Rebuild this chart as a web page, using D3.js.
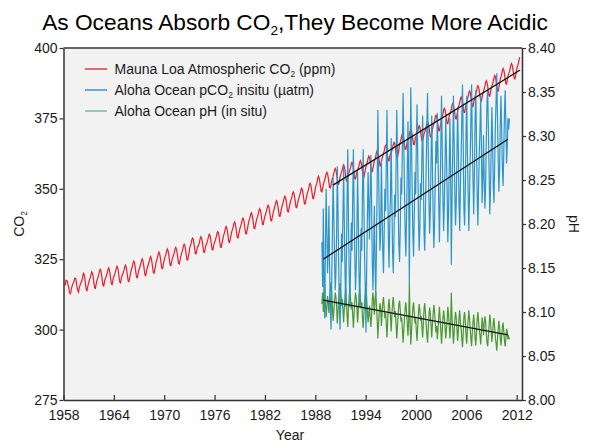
<!DOCTYPE html>
<html>
<head>
<meta charset="utf-8">
<script src="https://cdn.jsdelivr.net/npm/d3@7"></script>
<style>
  html, body { margin: 0; padding: 0; background: #ffffff; }
  svg { display: block; font-family: "Liberation Sans", Arial, sans-serif; }
</style>
</head>
<body>
<svg id="chart" width="590" height="445"></svg>
<script>
// Mauna Loa monthly mean CO2 (ppm), March 1958 through May 2012
const maunaLoaStart = { year: 1958, month: 2 };
const maunaLoaCO2 = [
  315.7, 317.5, 317.5, 317.1, 315.9, 314.9, 313.2, 312.7, 313.3, 314.7,
  315.6, 316.4, 316.7, 317.7, 318.3, 318.2, 316.5, 314.8, 313.8, 313.3, 314.8, 315.6,
  316.4, 317.0, 317.6, 319.0, 320.0, 319.6, 318.2, 315.9, 314.2, 313.8, 315.0, 316.2,
  317.1, 317.9, 318.7, 319.9, 320.5, 319.9, 318.5, 316.5, 314.8, 314.6, 315.9, 317.1,
  318.0, 318.8, 319.6, 320.8, 321.4, 320.8, 319.4, 317.4, 315.7, 315.5, 316.8, 318.0,
  318.5, 319.3, 320.1, 321.3, 321.9, 321.3, 319.9, 317.9, 316.2, 316.0, 317.3, 318.5,
  319.1, 319.9, 320.7, 321.9, 322.5, 321.9, 320.5, 318.5, 316.8, 316.6, 317.9, 319.1,
  319.5, 320.3, 321.1, 322.3, 322.9, 322.3, 320.9, 318.9, 317.2, 317.0, 318.3, 319.5,
  320.9, 321.7, 322.5, 323.7, 324.3, 323.7, 322.3, 320.3, 318.6, 318.4, 319.7, 320.9,
  321.7, 322.5, 323.3, 324.5, 325.1, 324.5, 323.1, 321.1, 319.4, 319.2, 320.5, 321.7,
  322.5, 323.3, 324.1, 325.3, 325.9, 325.3, 323.9, 321.9, 320.2, 320.0, 321.3, 322.5,
  324.1, 324.9, 325.7, 326.9, 327.5, 326.9, 325.5, 323.5, 321.8, 321.6, 322.9, 324.1,
  325.2, 326.0, 326.8, 328.0, 328.6, 328.0, 326.6, 324.6, 322.9, 322.7, 324.0, 325.2,
  325.8, 326.6, 327.4, 328.6, 329.2, 328.6, 327.2, 325.2, 323.5, 323.3, 324.6, 325.8,
  326.8, 327.6, 328.5, 329.7, 330.3, 329.8, 328.4, 326.5, 324.8, 324.7, 326.0, 327.2,
  329.0, 329.8, 330.7, 331.9, 332.5, 332.0, 330.6, 328.7, 327.0, 326.9, 328.2, 329.4,
  329.5, 330.3, 331.2, 332.4, 333.0, 332.5, 331.1, 329.2, 327.5, 327.4, 328.7, 329.9,
  330.4, 331.2, 332.1, 333.3, 333.9, 333.4, 332.0, 330.1, 328.4, 328.3, 329.6, 330.8,
  331.3, 332.1, 333.0, 334.2, 334.8, 334.3, 332.9, 331.0, 329.3, 329.2, 330.5, 331.7,
  333.1, 333.9, 334.8, 336.0, 336.6, 336.1, 334.7, 332.8, 331.1, 331.0, 332.3, 333.5,
  334.7, 335.5, 336.4, 337.6, 338.2, 337.7, 336.3, 334.4, 332.7, 332.6, 333.9, 335.1,
  336.1, 336.9, 337.8, 339.0, 339.6, 339.1, 337.7, 335.8, 334.1, 334.0, 335.3, 336.5,
  338.0, 338.8, 339.7, 340.9, 341.5, 341.0, 339.6, 337.7, 336.0, 335.9, 337.2, 338.4,
  339.4, 340.2, 341.1, 342.3, 342.9, 342.4, 341.0, 339.1, 337.4, 337.3, 338.6, 339.8,
  340.7, 341.5, 342.4, 343.6, 344.2, 343.7, 342.3, 340.4, 338.7, 338.6, 339.9, 341.1,
  342.3, 343.1, 344.0, 345.2, 345.8, 345.3, 343.9, 342.0, 340.3, 340.2, 341.5, 342.7,
  343.9, 344.7, 345.6, 346.8, 347.4, 346.9, 345.5, 343.6, 341.9, 341.8, 343.1, 344.3,
  345.4, 346.2, 347.1, 348.3, 348.9, 348.4, 347.0, 345.1, 343.4, 343.3, 344.6, 345.8,
  346.7, 347.5, 348.4, 349.6, 350.2, 349.7, 348.3, 346.4, 344.7, 344.6, 345.9, 347.1,
  348.3, 349.1, 350.0, 351.3, 352.0, 351.5, 350.1, 348.2, 346.6, 346.5, 347.9, 349.2,
  350.7, 351.5, 352.4, 353.7, 354.4, 353.9, 352.5, 350.6, 349.0, 348.9, 350.3, 351.6,
  352.4, 353.2, 354.1, 355.3, 355.9, 355.4, 354.0, 352.1, 350.4, 350.3, 351.6, 352.8,
  353.7, 354.5, 355.4, 356.6, 357.2, 356.7, 355.3, 353.4, 351.7, 351.6, 352.9, 354.1,
  355.1, 355.9, 356.7, 357.9, 358.5, 357.9, 356.5, 354.5, 352.8, 352.6, 353.9, 355.1,
  356.0, 356.8, 357.6, 358.8, 359.4, 358.8, 357.4, 355.4, 353.7, 353.5, 354.8, 356.0,
  356.6, 357.4, 358.2, 359.4, 360.0, 359.4, 358.0, 356.0, 354.3, 354.1, 355.4, 356.6,
  357.9, 358.7, 359.6, 360.9, 361.6, 361.1, 359.7, 357.8, 356.2, 356.1, 357.5, 358.8,
  359.9, 360.7, 361.6, 362.9, 363.6, 363.1, 361.7, 359.8, 358.2, 358.1, 359.5, 360.8,
  361.7, 362.5, 363.4, 364.7, 365.4, 364.9, 363.5, 361.6, 360.0, 359.9, 361.3, 362.6,
  362.8, 363.6, 364.5, 365.8, 366.5, 366.0, 364.6, 362.7, 361.1, 361.0, 362.4, 363.7,
  365.8, 366.6, 367.5, 368.8, 369.5, 369.0, 367.6, 365.7, 364.1, 364.0, 365.4, 366.7,
  367.5, 368.3, 369.2, 370.5, 371.2, 370.7, 369.3, 367.4, 365.8, 365.7, 367.1, 368.4,
  368.7, 369.5, 370.4, 371.7, 372.4, 371.9, 370.5, 368.6, 367.0, 366.9, 368.3, 369.6,
  370.2, 371.0, 371.9, 373.2, 373.9, 373.4, 372.0, 370.1, 368.5, 368.4, 369.8, 371.1,
  372.4, 373.2, 374.1, 375.4, 376.1, 375.6, 374.2, 372.3, 370.7, 370.6, 372.0, 373.3,
  374.9, 375.7, 376.6, 377.9, 378.6, 378.1, 376.7, 374.8, 373.2, 373.1, 374.5, 375.8,
  376.6, 377.4, 378.3, 379.6, 380.3, 379.8, 378.4, 376.5, 374.9, 374.8, 376.2, 377.5,
  378.9, 379.7, 380.6, 381.9, 382.6, 382.1, 380.7, 378.8, 377.2, 377.1, 378.5, 379.8,
  381.0, 381.8, 382.7, 384.0, 384.7, 384.2, 382.8, 380.9, 379.3, 379.2, 380.6, 381.9,
  382.9, 383.7, 384.6, 385.9, 386.6, 386.1, 384.7, 382.8, 381.2, 381.1, 382.5, 383.8,
  384.7, 385.5, 386.4, 387.7, 388.4, 387.9, 386.5, 384.6, 383.0, 382.9, 384.3, 385.6,
  386.5, 387.3, 388.2, 389.5, 390.2, 389.7, 388.3, 386.4, 384.8, 384.7, 386.1, 387.4,
  389.0, 389.8, 390.7, 392.0, 392.7, 392.2, 390.8, 388.9, 387.3, 387.2, 388.6, 389.9,
  390.8, 391.6, 392.5, 393.8, 394.5, 394.0, 392.6, 390.7, 389.1, 389.0, 390.4, 391.7,
  393.0, 393.8, 394.7, 396.0, 396.7
];

// Station ALOHA monthly samples, October 1988 through February 2011
const alohaStart = { year: 1988, month: 9 };
const alohaPCO2 = [
  331, 315, 343,
  314, 304, 330, 350, 336, 320, 328, 344, 322, 308, 300, 316,
  336, 354, 340, 326, 314, 320, 334, 358, 342, 322, 308, 300,
  314, 334, 324, 340, 358, 338, 320, 308, 326, 348, 364, 336,
  320, 308, 324, 338, 328, 346, 364, 344, 326, 314, 322, 336,
  356, 340, 320, 308, 322, 336, 328, 350, 364, 344, 326, 314,
  299, 322, 340, 356, 344, 332, 348, 362, 346, 324, 314, 328,
  344, 322, 312, 330, 352, 378, 356, 340, 328, 334, 360, 344,
  328, 320, 334, 350, 342, 358, 378, 354, 332, 322, 338, 348,
  368, 346, 328, 320, 332, 348, 340, 358, 378, 362, 344, 330,
  324, 336, 354, 348, 364, 384, 368, 350, 334, 326, 340, 356,
  374, 354, 316, 352, 386, 368, 350, 334, 326, 340, 356, 348,
  366, 380, 360, 340, 328, 336, 352, 346, 362, 376, 356, 334,
  328, 342, 356, 372, 384, 364, 346, 334, 342, 360, 376, 358,
  341, 329, 337, 353, 367, 359, 377, 363, 345, 331, 347, 365,
  383, 365, 347, 335, 345, 359, 375, 363, 349, 331, 341, 357,
  375, 357, 323, 345, 363, 383, 367, 349, 337, 345, 361, 379,
  365, 345, 335, 351, 361, 375, 387, 367, 343, 337, 349, 369,
  383, 363, 349, 335, 347, 361, 375, 387, 367, 353, 341, 355,
  375, 385, 367, 347, 337, 351, 363, 371, 383, 365, 345, 353,
  369, 353, 343, 351, 367, 381, 385, 371, 357, 341, 349, 365,
  379, 367, 351, 345, 359, 373, 381, 391, 375, 361, 349, 357,
  373, 383, 371, 357, 351, 363, 377, 385, 373, 359, 365, 375,
  371, 375
];
const alohaPH = [
  8.109, 8.122, 8.100,
  8.123, 8.131, 8.110, 8.094, 8.105, 8.118, 8.111, 8.099, 8.116, 8.127, 8.134, 8.121,
  8.105, 8.090, 8.101, 8.113, 8.122, 8.117, 8.106, 8.087, 8.100, 8.116, 8.127, 8.133,
  8.123, 8.107, 8.115, 8.102, 8.088, 8.104, 8.118, 8.128, 8.113, 8.096, 8.083, 8.105,
  8.118, 8.127, 8.114, 8.103, 8.111, 8.097, 8.082, 8.098, 8.113, 8.122, 8.116, 8.105,
  8.088, 8.101, 8.117, 8.127, 8.116, 8.104, 8.111, 8.093, 8.082, 8.098, 8.112, 8.122,
  8.134, 8.115, 8.101, 8.088, 8.098, 8.107, 8.094, 8.083, 8.096, 8.114, 8.122, 8.110,
  8.097, 8.115, 8.123, 8.108, 8.091, 8.070, 8.088, 8.100, 8.110, 8.105, 8.084, 8.097,
  8.111, 8.117, 8.106, 8.093, 8.099, 8.087, 8.071, 8.090, 8.107, 8.115, 8.103, 8.095,
  8.078, 8.096, 8.110, 8.117, 8.107, 8.094, 8.101, 8.086, 8.070, 8.083, 8.097, 8.109,
  8.113, 8.103, 8.089, 8.094, 8.081, 8.065, 8.078, 8.092, 8.105, 8.111, 8.100, 8.087,
  8.073, 8.089, 8.132, 8.090, 8.063, 8.077, 8.092, 8.105, 8.111, 8.100, 8.087, 8.093,
  8.079, 8.067, 8.083, 8.099, 8.109, 8.103, 8.090, 8.095, 8.082, 8.071, 8.087, 8.104,
  8.110, 8.098, 8.087, 8.074, 8.065, 8.081, 8.095, 8.105, 8.098, 8.084, 8.071, 8.086,
  8.098, 8.108, 8.101, 8.088, 8.077, 8.084, 8.069, 8.080, 8.095, 8.106, 8.093, 8.079,
  8.064, 8.078, 8.093, 8.102, 8.094, 8.083, 8.070, 8.080, 8.091, 8.106, 8.098, 8.085,
  8.070, 8.084, 8.122, 8.094, 8.080, 8.064, 8.076, 8.091, 8.100, 8.094, 8.081, 8.067,
  8.078, 8.094, 8.102, 8.089, 8.081, 8.070, 8.060, 8.076, 8.095, 8.100, 8.090, 8.074,
  8.064, 8.080, 8.091, 8.102, 8.093, 8.081, 8.070, 8.061, 8.077, 8.088, 8.097, 8.086,
  8.070, 8.062, 8.076, 8.092, 8.100, 8.089, 8.079, 8.073, 8.063, 8.078, 8.094, 8.087,
  8.074, 8.087, 8.095, 8.089, 8.076, 8.065, 8.061, 8.073, 8.084, 8.097, 8.090, 8.077,
  8.066, 8.075, 8.088, 8.093, 8.082, 8.071, 8.064, 8.056, 8.069, 8.080, 8.090, 8.083,
  8.070, 8.062, 8.072, 8.083, 8.088, 8.078, 8.067, 8.061, 8.070, 8.081, 8.077, 8.069,
  8.072, 8.069
];

// Linear fits (start and end of each trend line)
const co2TrendYears = [1990.1, 2012.4];
const co2TrendValues = [351.3, 392.2];
const pco2TrendYears = [1988.95, 2010.95];
const pco2TrendValues = [325.0, 367.6];
const phTrendYears = [1988.95, 2010.95];
const phTrendValues = [8.1136, 8.0739];

// Axis ticks
const yearTicks = [1958, 1964, 1970, 1976, 1982, 1988, 1994, 2000, 2006, 2012];
const co2Ticks = [275, 300, 325, 350, 375, 400];
const phTicks = [8.00, 8.05, 8.10, 8.15, 8.20, 8.25, 8.30, 8.35, 8.40];

const legendItems = [
  { label: ["Mauna Loa Atmospheric CO", "2", " (ppm)"], color: "#f0323c" },
  { label: ["Aloha Ocean pCO", "2", " insitu (µatm)"], color: "#3d8fd0" },
  { label: ["Aloha Ocean pH (in situ)"], color: "#6cc684" }
];

const colors = { co2: "#ec1c2a", pco2: "#2a96cc", ph: "#4b9733", trend: "#111111", axis: "#333333" };

const svg = d3.select("#chart");
const margin = { left: 63.5, right: 522, top: 48, bottom: 400 };

const x = d3.scaleLinear().domain([1958, 2012.63]).range([margin.left, margin.right]);
const yCO2 = d3.scaleLinear().domain([275, 400]).range([margin.bottom, margin.top]);
const yPH = d3.scaleLinear().domain([8.0, 8.4]).range([margin.bottom, margin.top]);

const monthTime = (start, i) => start.year + (start.month + i + 0.5) / 12;

// Plot background and top border
svg.append("rect")
  .attr("x", margin.left).attr("y", margin.top)
  .attr("width", margin.right - margin.left).attr("height", margin.bottom - margin.top)
  .attr("fill", "#f2f2f2");
svg.append("line")
  .attr("x1", margin.left).attr("x2", margin.right)
  .attr("y1", margin.top).attr("y2", margin.top)
  .attr("stroke", colors.axis).attr("stroke-width", 1.5);

// Series
const co2Line = d3.line().x((d, i) => x(monthTime(maunaLoaStart, i))).y(d => yCO2(d));
const pco2Line = d3.line().x((d, i) => x(monthTime(alohaStart, i))).y(d => yCO2(d));
const phLine = d3.line().x((d, i) => x(monthTime(alohaStart, i))).y(d => yPH(d));

svg.append("path").datum(maunaLoaCO2).attr("d", co2Line)
  .attr("fill", "none").attr("stroke", colors.co2).attr("stroke-width", 1.2);
svg.append("path").datum(alohaPH).attr("d", phLine)
  .attr("fill", "none").attr("stroke", colors.ph).attr("stroke-width", 1.2);
svg.append("path").datum(alohaPCO2).attr("d", pco2Line)
  .attr("fill", "none").attr("stroke", colors.pco2).attr("stroke-width", 1.2);

// Trend lines
function trend(years, values, yScale) {
  svg.append("line")
    .attr("x1", x(years[0])).attr("y1", yScale(values[0]))
    .attr("x2", x(years[1])).attr("y2", yScale(values[1]))
    .attr("stroke", colors.trend).attr("stroke-width", 1.3);
}
trend(co2TrendYears, co2TrendValues, yCO2);
trend(pco2TrendYears, pco2TrendValues, yCO2);
trend(phTrendYears, phTrendValues, yPH);

// Axes
function styleAxis(g) {
  g.selectAll("path.domain").attr("stroke", colors.axis).attr("stroke-width", 1.5);
  g.selectAll(".tick line").attr("stroke", colors.axis).attr("stroke-width", 1.2);
  g.selectAll(".tick text").attr("fill", "#1a1a1a").attr("font-size", 14)
    .attr("font-family", "Liberation Sans, Arial, sans-serif");
}

svg.append("g").attr("transform", `translate(0,${margin.bottom})`)
  .call(d3.axisBottom(x).tickValues(yearTicks).tickFormat(d3.format("d")).tickSizeInner(-5).tickSizeOuter(0).tickPadding(10))
  .call(styleAxis);

svg.append("g").attr("transform", `translate(${margin.left},0)`)
  .call(d3.axisLeft(yCO2).tickValues(co2Ticks).tickFormat(d3.format("d")).tickSizeInner(4).tickSizeOuter(0).tickPadding(2))
  .call(styleAxis);

svg.append("g").attr("transform", `translate(${margin.right},0)`)
  .call(d3.axisRight(yPH).tickValues(phTicks).tickFormat(d3.format(".2f")).tickSizeInner(4).tickSizeOuter(0).tickPadding(2))
  .call(styleAxis);

// Text with a subscript part
function subText(sel, parts, size) {
  parts.forEach((p, i) => {
    const isSub = parts.length > 1 && i === 1;
    sel.append("tspan")
      .attr("font-size", isSub ? size * 0.6 : size)
      .attr("dy", isSub ? size * 0.22 : (i === 2 ? -size * 0.22 : 0))
      .text(p);
  });
}

// Title
const title = svg.append("text").attr("x", 295).attr("y", 30).attr("text-anchor", "middle").attr("fill", "#000");
subText(title, ["As Oceans Absorb CO", "2", ",They Become More Acidic"], 22.7);

// Axis titles
svg.append("text").attr("x", 290).attr("y", 440).attr("text-anchor", "middle")
  .attr("font-size", 14).attr("fill", "#1a1a1a").text("Year");
const co2Label = svg.append("text").attr("transform", "translate(24,224) rotate(-90)")
  .attr("text-anchor", "middle").attr("fill", "#1a1a1a");
subText(co2Label, ["CO", "2"], 14);
svg.append("text").attr("transform", "translate(569,224) rotate(90)")
  .attr("text-anchor", "middle").attr("font-size", 14).attr("fill", "#1a1a1a").text("pH");

// Legend
const legend = svg.append("g").attr("transform", "translate(85,69)");
legendItems.forEach((item, i) => {
  const row = legend.append("g").attr("transform", `translate(0,${i * 21})`);
  row.append("line").attr("x1", 0).attr("x2", 22).attr("y1", 0).attr("y2", 0)
    .attr("stroke", item.color).attr("stroke-width", 1.5);
  const t = row.append("text").attr("x", 29.5).attr("y", 5).attr("fill", "#1a1a1a");
  subText(t, item.label, 14);
});
</script>
</body>
</html>
